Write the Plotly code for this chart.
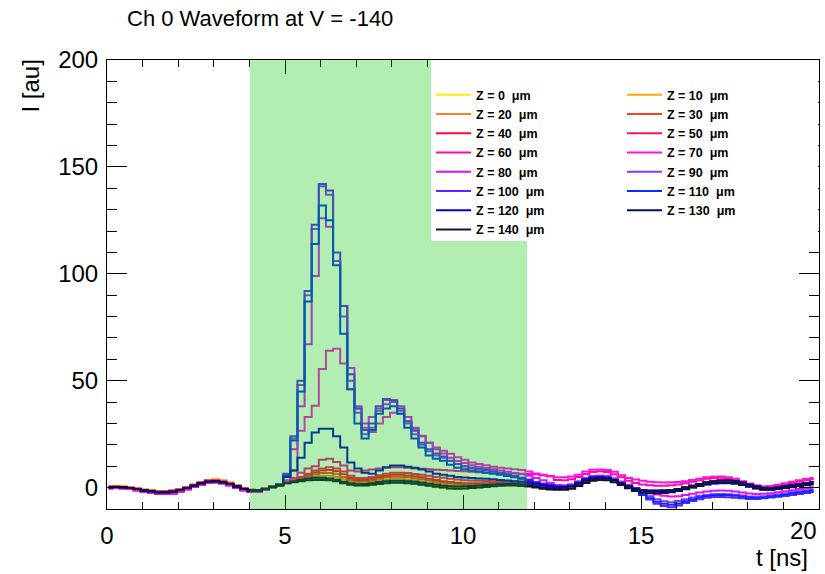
import plotly.graph_objects as go

# ---------------- data ----------------
# bin centres: 0.05, 0.25, ... 19.85 ns (0.2 ns bins)
t_centres = [round(0.05 + 0.2 * k, 2) for k in range(100)]

z_labels = [0, 10, 20, 30, 40, 50, 60, 70, 80, 90, 100, 110, 120, 130, 140]
colors = ["#ffee00", "#ffaa00", "#ff8020", "#ff4020", "#ff0a30", "#ff1060",
          "#ff0aa0", "#ff10e0", "#dd10ff", "#9030ff", "#6020ff", "#0030ff",
          "#0000d0", "#00106a", "#101040"]

# pre-trigger part, t = 0.05 .. 4.45 ns
pre_mid = [0.2, 0.3, 0.2, -0.2, -0.6, -1.4, -1.7, -2.2, -2.2, -1.9,
           -1.1, -0.2, 0.9, 2.0, 2.8, 3.0, 2.5, 1.7, 0.5, -0.6,
           -1.4, -1.4, -0.6]
pre_warm = [0.6, 0.6, 0.4, 0.0, -0.4, -1.0, -1.3, -1.7, -1.6, -1.3,
            -0.6, 0.3, 1.4, 2.5, 3.4, 3.7, 3.2, 2.3, 1.0, -0.2,
            -1.0, -1.1, -0.3]
pre_pink = [-0.3, -0.2, -0.3, -0.7, -1.2, -2.0, -2.4, -2.9, -3.0, -2.7,
            -1.8, -0.8, 0.4, 1.5, 2.3, 2.5, 2.0, 1.1, -0.1, -1.2,
            -1.9, -1.9, -1.0]

# signal part, t = 4.65 .. 12.45 ns (40 bins) for each Z
body_z0 = [0.3, 1.1, 2.1, 2.6, 3.1, 3.6, 3.9, 3.9, 3.6, 3.1,
           2.1, 1.4, 1.0, 1.0, 1.4, 1.8, 2.2, 2.4, 2.4, 2.2,
           1.8, 1.3, 0.8, 0.2, -0.3, -0.6, -0.7, -0.6, -0.3, 0.0,
           0.3, 0.6, 0.9, 1.0, 1.0, 0.9, 0.6, 0.2, -0.3, -0.7]
body_z10 = [0.2, 1.0, 2.0, 2.6, 3.3, 3.9, 4.3, 4.5, 4.3, 3.8,
            2.8, 2.0, 1.5, 1.5, 1.9, 2.4, 2.9, 3.1, 3.1, 2.9,
            2.5, 2.0, 1.4, 0.9, 0.5, 0.2, 0.1, 0.2, 0.4, 0.6,
            0.8, 1.0, 1.2, 1.2, 1.2, 1.0, 0.7, 0.3, -0.2, -0.6]
body_z20 = [0.2, 1.0, 2.1, 2.8, 3.6, 4.5, 5.2, 5.6, 5.5, 5.0,
            3.9, 2.8, 2.2, 2.2, 2.7, 3.3, 3.8, 4.1, 4.1, 3.8,
            3.4, 2.9, 2.3, 1.8, 1.3, 1.0, 0.9, 0.9, 1.0, 1.1,
            1.3, 1.4, 1.5, 1.5, 1.5, 1.3, 1.0, 0.6, 0.1, -0.4]
body_z30 = [0.2, 1.0, 2.2, 3.0, 4.0, 5.2, 6.2, 6.8, 6.8, 6.2,
            5.0, 3.6, 2.9, 3.0, 3.5, 4.2, 4.8, 5.1, 5.1, 4.8,
            4.4, 3.9, 3.3, 2.8, 2.3, 1.9, 1.7, 1.6, 1.6, 1.7,
            1.8, 1.9, 2.0, 2.0, 2.0, 1.9, 1.6, 1.2, 0.6, 0.1]
body_z40 = [0.3, 1.1, 2.3, 3.2, 4.5, 6.0, 7.2, 8.0, 8.2, 7.6,
            6.2, 4.5, 3.6, 3.6, 4.2, 5.0, 5.6, 6.0, 6.0, 5.7,
            5.3, 4.8, 4.2, 3.6, 3.0, 2.6, 2.3, 2.1, 2.0, 2.0,
            2.1, 2.2, 2.3, 2.3, 2.3, 2.2, 2.0, 1.6, 1.0, 0.5]
body_z50 = [0.3, 1.1, 2.5, 3.5, 5.0, 6.5, 8.0, 9.0, 9.5, 9.0,
            7.5, 5.5, 4.5, 4.5, 5.0, 5.8, 6.5, 7.0, 7.0, 6.8,
            6.4, 6.0, 5.5, 5.0, 4.6, 4.2, 3.8, 3.5, 3.3, 3.2,
            3.1, 3.0, 3.0, 3.0, 3.0, 2.9, 2.7, 2.3, 1.8, 1.2]
body_z60 = [0.3, 1.2, 2.8, 4.5, 7.0, 9.0, 10.0, 13.0, 13.5, 12.0,
            10.3, 8.0, 7.5, 8.0, 8.5, 9.0, 9.3, 9.5, 9.5, 9.3,
            9.0, 8.8, 8.6, 8.4, 8.2, 8.0, 7.8, 7.6, 7.4, 7.2,
            7.0, 6.9, 6.8, 6.7, 6.6, 6.5, 6.4, 6.2, 5.8, 5.4]
body_z70 = [0.3, 1.2, 3.5, 8.0, 26.6, 33.0, 38.3, 55.5, 64.0, 65.0,
            58.0, 46.0, 37.0, 28.0, 26.0, 30.0, 33.0, 35.0, 34.6, 31.0,
            27.5, 24.3, 21.0, 18.8, 17.3, 15.8, 14.2, 13.0, 11.8, 11.0,
            10.5, 9.8, 9.3, 9.0, 8.6, 8.2, 7.5, 6.6, 6.0, 5.2]
body_z80 = [0.4, 1.3, 5.0, 18.0, 38.0, 67.0, 99.0, 126.0, 122.0, 106.0,
            85.0, 56.0, 38.0, 30.0, 33.0, 36.0, 39.0, 41.0, 38.0, 33.0,
            28.0, 24.0, 21.0, 18.0, 16.0, 14.0, 12.5, 11.5, 10.5, 9.8,
            9.2, 8.6, 8.0, 7.4, 6.8, 6.2, 5.6, 4.5, 3.4, 2.2]
body_z90 = [0.5, 1.4, 6.0, 23.0, 48.0, 90.0, 121.0, 141.0, 137.0, 106.0,
            80.0, 50.0, 35.0, 25.0, 28.0, 37.0, 41.0, 40.0, 36.0, 30.0,
            25.0, 20.0, 17.0, 15.0, 14.0, 12.5, 11.0, 10.0, 9.2, 8.6,
            8.0, 7.4, 6.8, 6.0, 5.2, 4.4, 3.6, 2.4, 1.6, 1.0]
body_z100 = [0.5, 1.5, 6.5, 24.0, 50.0, 92.0, 123.0, 142.0, 139.0, 110.0,
             85.0, 53.0, 37.0, 27.0, 30.0, 38.0, 41.5, 40.6, 37.0, 31.0,
             26.6, 21.0, 18.0, 16.0, 14.5, 12.6, 11.0, 10.0, 9.3, 8.8,
             8.2, 7.6, 7.0, 6.2, 5.4, 4.6, 3.8, 2.6, 1.8, 1.2]
body_z110 = [0.4, 1.2, 5.5, 22.0, 45.0, 87.0, 114.0, 132.0, 125.0, 104.0,
             72.0, 46.0, 30.0, 23.0, 27.0, 34.5, 37.0, 38.0, 34.6, 28.0,
             23.0, 18.8, 15.0, 13.5, 12.6, 10.7, 9.3, 8.6, 8.0, 7.5,
             7.0, 6.5, 6.0, 5.4, 4.8, 4.2, 3.4, 2.2, 1.5, 1.0]
body_z120 = [0.3, 1.5, 5.0, 8.0, 14.0, 21.0, 25.8, 27.5, 27.5, 24.0,
             18.8, 11.8, 9.0, 7.0, 6.5, 8.0, 9.5, 10.3, 10.3, 9.8,
             9.3, 8.5, 7.5, 6.5, 6.0, 5.5, 5.0, 4.7, 4.5, 4.3,
             4.1, 3.9, 3.6, 3.3, 3.0, 2.7, 2.4, 1.8, 1.2, 0.7]
body_z130 = [0.2, 1.1, 2.2, 2.9, 3.6, 4.3, 4.6, 4.6, 4.3, 3.7,
             2.7, 2.0, 1.6, 1.7, 2.1, 2.6, 3.0, 3.2, 3.2, 3.0,
             2.7, 2.3, 1.8, 1.3, 0.9, 0.6, 0.5, 0.6, 0.8, 1.0,
             1.2, 1.4, 1.6, 1.7, 1.7, 1.5, 1.1, 0.6, 0.1, -0.3]
body_z140 = [0.2, 1.0, 2.0, 2.5, 3.0, 3.5, 3.6, 3.6, 3.4, 3.0,
             2.0, 1.4, 1.0, 1.0, 1.3, 1.7, 2.1, 2.3, 2.3, 2.1,
             1.8, 1.4, 0.9, 0.4, 0.0, -0.4, -0.5, -0.4, -0.2, 0.0,
             0.3, 0.6, 0.9, 1.0, 1.0, 0.8, 0.5, 0.0, -0.5, -0.9]

# after-pulse part, t = 12.65 .. 19.85 ns (37 bins)
tail_black = [-1.0, -1.0, -0.5, 0.8, 2.2, 3.2, 3.6, 3.4, 2.5, 1.2,
              -0.3, -1.6, -2.4, -2.6, -2.6, -2.5, -2.2, -1.6, -0.8, 0.0,
              0.8, 1.6, 2.1, 2.4, 2.5, 2.2, 1.5, 0.6, -0.3, -1.0,
              -1.0, -0.6, -0.2, 0.3, 0.8, 1.3, 1.7]
tail_mid = [-0.2, -0.1, 0.5, 1.8, 3.2, 4.2, 4.6, 4.4, 3.5, 2.1,
            0.6, -0.6, -1.3, -1.5, -1.5, -1.4, -1.1, -0.6, 0.1, 0.9,
            1.7, 2.5, 3.0, 3.3, 3.4, 3.1, 2.4, 1.5, 0.6, -0.1,
            -0.2, 0.2, 0.7, 1.2, 1.7, 2.2, 2.6]
tail_pink_hi = [4.9, 4.8, 5.2, 6.0, 7.5, 8.3, 8.5, 8.2, 7.4, 5.8,
                4.5, 3.8, 3.2, 2.8, 2.5, 2.4, 2.5, 2.6, 3.0, 3.6,
                4.2, 4.8, 5.1, 5.2, 4.9, 4.2, 3.0, 1.8, 0.9, 0.5,
                0.8, 1.4, 2.1, 2.8, 3.4, 4.0, 4.5]
tail_pink_lo = [3.6, 3.4, 3.9, 5.0, 6.4, 7.3, 7.6, 7.3, 6.3, 4.8,
                3.2, 2.2, 1.5, 1.1, 0.9, 0.9, 1.1, 1.5, 2.1, 2.8,
                3.5, 4.1, 4.5, 4.6, 4.4, 3.8, 2.8, 1.8, 1.0, 0.4,
                0.4, 0.9, 1.5, 2.2, 2.8, 3.4, 3.9]
tail_purple = [1.2, 1.1, 1.6, 3.0, 4.5, 5.4, 5.7, 5.4, 4.4, 2.9,
               1.3, -0.2, -1.4, -2.4, -3.2, -3.8, -4.2, -4.0, -3.5, -2.9,
               -2.3, -1.8, -1.5, -1.4, -1.5, -1.8, -2.3, -2.8, -3.0, -2.9,
               -2.6, -2.2, -1.7, -1.2, -0.7, -0.2, 0.2]
tail_violet = [0.8, 0.7, 1.2, 2.6, 4.1, 5.0, 5.3, 5.0, 4.0, 2.5,
               0.9, -0.8, -2.4, -4.0, -5.4, -6.4, -6.8, -6.3, -5.4, -4.6,
               -3.9, -3.4, -3.1, -3.0, -3.1, -3.3, -3.7, -4.1, -4.2, -4.0,
               -3.6, -3.2, -2.7, -2.2, -1.7, -1.2, -0.8]
tail_blue_deep = [0.6, 0.5, 1.0, 2.5, 4.0, 4.8, 5.0, 4.6, 3.6, 2.0,
                  0.5, -1.5, -3.5, -5.5, -7.5, -8.6, -9.2, -8.4, -7.2, -6.2,
                  -5.4, -4.7, -4.4, -4.4, -4.5, -4.7, -5.0, -5.3, -5.3, -5.0,
                  -4.6, -4.3, -3.9, -3.4, -3.0, -2.5, -2.0]
tail_blue = [0.4, 0.3, 0.9, 2.3, 3.8, 4.6, 4.8, 4.4, 3.4, 1.8,
             0.2, -1.6, -3.3, -5.0, -6.6, -7.6, -8.0, -7.4, -6.4, -5.4,
             -4.6, -3.9, -3.5, -3.4, -3.5, -3.8, -4.2, -4.6, -4.8, -4.6,
             -4.2, -3.8, -3.3, -2.8, -2.3, -1.9, -1.5]
tail_navy = [0.4, 0.4, 0.8, 2.2, 3.8, 4.6, 4.9, 4.6, 3.6, 2.2,
             0.8, -0.4, -1.2, -1.6, -1.8, -1.8, -1.6, -1.2, -0.6, 0.2,
             0.9, 1.5, 1.9, 2.1, 2.1, 1.8, 1.2, 0.4, -0.4, -0.9,
             -0.9, -0.6, -0.2, 0.2, 0.7, 1.1, 1.5]

pres = [pre_warm, pre_warm, pre_warm, pre_warm, pre_pink, pre_pink, pre_pink,
        pre_pink, pre_pink, pre_mid, pre_mid, pre_mid, pre_mid, pre_mid, pre_mid]
bodies = [body_z0, body_z10, body_z20, body_z30, body_z40, body_z50, body_z60,
          body_z70, body_z80, body_z90, body_z100, body_z110, body_z120,
          body_z130, body_z140]
tails = [tail_black, tail_mid, tail_mid, tail_mid, tail_mid, tail_mid, tail_pink_lo,
         tail_pink_hi, tail_purple, tail_violet, tail_blue_deep, tail_blue,
         tail_navy, tail_mid, tail_black]

x_tick_vals = [0, 5, 10, 15, 20]
x_tick_text = ["0", "5", "10", "15", ""]
y_tick_vals = [0, 50, 100, 150, 200]
y_tick_text = ["0", "50", "100", "150", "200"]

FONT = "Liberation Sans, Arial, Helvetica, sans-serif"

fig = go.Figure()
for i, z in enumerate(z_labels):
    y = pres[i] + bodies[i] + tails[i]
    fig.add_trace(go.Scatter(
        x=t_centres, y=y, mode="lines",
        line=dict(color=colors[i], width=2, shape="hvh"),
        name=f"Z = {z}\u00a0\u00a0\u03bcm",
        legend="legend" if i % 2 == 0 else "legend2",
    ))

# semi-transparent green window drawn over the traces
fig.add_shape(type="rect", xref="x", yref="y", x0=4.02, x1=11.8, y0=-10, y1=200,
              fillcolor="rgba(0,200,0,0.3)", line=dict(width=0), layer="above")
# white legend box
fig.add_shape(type="rect", xref="paper", yref="paper", x0=0.4551, x1=0.9985,
              y0=0.597, y1=1.0, fillcolor="white", line=dict(width=0), layer="above")

leg_common = dict(bgcolor="rgba(0,0,0,0)", borderwidth=0, orientation="v",
                  xanchor="left", yanchor="top", y=0.955, itemwidth=35,
                  font=dict(family=FONT, size=12.5, color="black", weight="bold"))
fig.update_layout(
    width=825, height=574,
    margin=dict(l=107, r=6, t=60, b=65),
    paper_bgcolor="white", plot_bgcolor="white",
    showlegend=True,
    legend=dict(x=0.4551, **leg_common),
    legend2=dict(x=0.7233, **leg_common),
    font=dict(family=FONT, color="black"),
    title=dict(text="Ch 0 Waveform at V = -140", x=127 / 825, xanchor="left",
               y=1 - 18 / 574, yanchor="middle", xref="container", yref="container",
               font=dict(family=FONT, size=22, color="black")),
)
fig.update_xaxes(range=[0, 20], showgrid=False, zeroline=False,
                 showline=True, linecolor="black", linewidth=1, mirror="ticks",
                 ticks="inside", ticklen=14, tickwidth=1, tickcolor="black",
                 tickvals=x_tick_vals, ticktext=x_tick_text,
                 minor=dict(ticks="inside", ticklen=7, dtick=1, tickcolor="black", showgrid=False),
                 tickfont=dict(family=FONT, size=24, color="black"), ticklabelstandoff=5)
fig.update_yaxes(range=[-10, 200], showgrid=False, zeroline=False,
                 showline=True, linecolor="black", linewidth=1, mirror="ticks",
                 ticks="inside", ticklen=20, tickwidth=1, tickcolor="black",
                 tickvals=y_tick_vals, ticktext=y_tick_text,
                 minor=dict(ticks="inside", ticklen=10, dtick=10, tickcolor="black", showgrid=False),
                 tickfont=dict(family=FONT, size=24, color="black"), ticklabelstandoff=3)

# last x tick label, pulled inside the canvas like the original
fig.add_annotation(text="20", xref="paper", yref="paper", x=1.0, y=(509 - 530) / 449,
                   xanchor="right", yanchor="middle", showarrow=False,
                   font=dict(family=FONT, size=24, color="black"))
fig.add_annotation(text="t [ns]", xref="paper", yref="paper", x=(810 - 107) / 712,
                   y=(509 - 557) / 449, xanchor="right", yanchor="middle", showarrow=False,
                   font=dict(family=FONT, size=24, color="black"))
fig.add_annotation(text="I [au]", xref="paper", yref="paper", x=(30 - 107) / 712,
                   y=(509 - 58) / 449, xanchor="center", yanchor="top", textangle=-90,
                   showarrow=False, font=dict(family=FONT, size=24, color="black"))

fig.write_html("out.html")
